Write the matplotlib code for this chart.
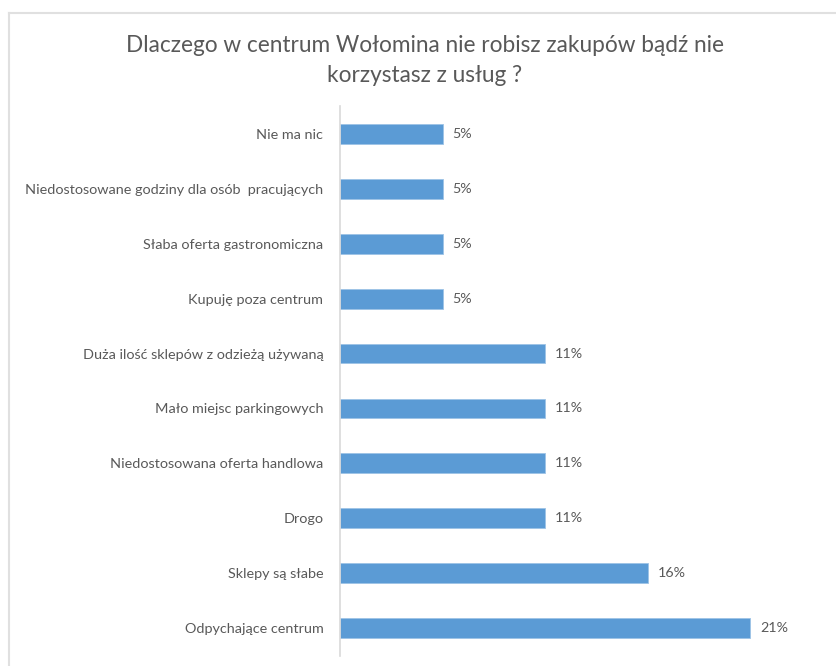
import numpy as np
import matplotlib.pyplot as plt
from matplotlib.lines import Line2D

plt.rcParams['font.family'] = ['Lato', 'DejaVu Sans']

# Data (top to bottom as in the chart)
categories = [
    'Nie ma nic',
    'Niedostosowane godziny dla osób  pracujących',
    'Słaba oferta gastronomiczna',
    'Kupuję poza centrum',
    'Duża ilość sklepów z odzieżą używaną',
    'Mało miejsc parkingowych',
    'Niedostosowana oferta handlowa',
    'Drogo',
    'Sklepy są słabe',
    'Odpychające centrum',
]
values = [5.26, 5.26, 5.26, 5.26, 10.53, 10.53, 10.53, 10.53, 15.79, 21.05]
labels = ['5%', '5%', '5%', '5%', '11%', '11%', '11%', '11%', '16%', '21%']

text_color = '#595959'
bar_color = '#5B9BD5'

fig = plt.figure(figsize=(8.36, 6.66), dpi=100)
ax = fig.add_axes([340 / 836, 10.5 / 666, 468 / 836, 549 / 666])

y = np.arange(len(categories))
ax.barh(y, values, height=0.36, color=bar_color, edgecolor='#9DC3E6', linewidth=0.6)
ax.set_ylim(len(categories) - 0.5, -0.5)
ax.set_xlim(0, 24)

for yi, v, lab in zip(y, values, labels):
    ax.text(v + 0.5, yi, lab, va='center', ha='left', fontsize=10.3, color=text_color)

ax.set_yticks(y)
ax.set_yticklabels(categories, fontsize=10.4, color=text_color)
ax.tick_params(axis='y', length=0, pad=12)
ax.set_xticks([])
for s in ['top', 'right', 'bottom']:
    ax.spines[s].set_visible(False)
ax.spines['left'].set_color('#D9D9D9')
ax.spines['left'].set_linewidth(1.2)

fig.text(0.508, 1 - 45 / 666, 'Dlaczego w centrum Wołomina nie robisz zakupów bądź nie',
         ha='center', va='center', fontsize=16.3, color=text_color)
fig.text(0.508, 1 - 76 / 666, 'korzystasz z usług ?',
         ha='center', va='center', fontsize=16.3, color=text_color)

# chart area frame (top and left edges visible)
fig.add_artist(Line2D([8.5 / 836, 1], [1 - 12.5 / 666] * 2, color='#E0E0E0', lw=1.5,
                      transform=fig.transFigure))
fig.add_artist(Line2D([8.5 / 836] * 2, [0, 1 - 12.5 / 666], color='#E0E0E0', lw=1.5,
                      transform=fig.transFigure))

fig.savefig('out.png', dpi=100)
